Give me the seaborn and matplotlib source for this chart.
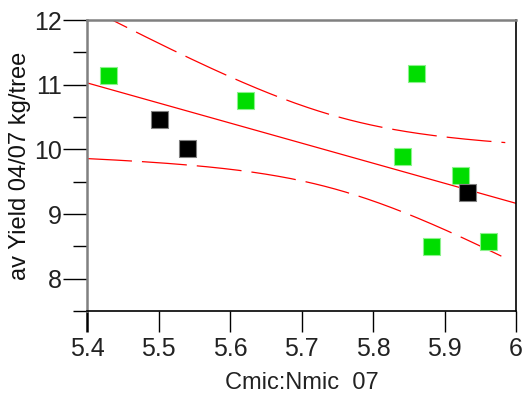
import numpy as np
import pandas as pd
import matplotlib
matplotlib.use("Agg")
import matplotlib.pyplot as plt
import seaborn as sns

# data
x_green = [5.430, 5.622, 5.861, 5.841, 5.922, 5.882, 5.962]
y_green = [11.14, 10.76, 11.18, 9.894, 9.596, 8.499, 8.571]
x_black = [5.501, 5.541, 5.932]
y_black = [10.456, 10.008, 9.328]
x_ticks = [5.4, 5.5, 5.6, 5.7, 5.8, 5.9, 6.0]
x_ticklabels = ["5.4", "5.5", "5.6", "5.7", "5.8", "5.9", "6"]
y_ticks = [8, 9, 10, 11, 12]

df = pd.DataFrame({
    "x": x_green + x_black,
    "y": y_green + y_black,
    "grp": ["g"] * len(x_green) + ["k"] * len(x_black),
})

sns.set_style("white")
plt.rcParams["font.family"] = ["Liberation Sans", "DejaVu Sans"]

fig = plt.figure(figsize=(5.28, 3.98), dpi=100)
ax = fig.add_axes([0.1648, 0.2186, 0.8125, 0.7311])
ax.set_xlim(5.4, 6.0)
ax.set_ylim(7.5, 12)

# regression line over full axis
sns.regplot(data=df, x="x", y="y", ax=ax, scatter=False, ci=None, truncate=False,
            line_kws=dict(color="red", lw=0.9))

# 95% confidence band of the mean, dashed
xv = df["x"].to_numpy(); yv = df["y"].to_numpy()
n = len(xv)
b, a = np.polyfit(xv, yv, 1)
resid = yv - (a + b * xv)
s = np.sqrt((resid ** 2).sum() / (n - 2))
t = 2.306  # t(0.975, df=8)
xs = np.linspace(5.4, 5.985, 200)
fit = a + b * xs
hw = t * s * np.sqrt(1 / n + (xs - xv.mean()) ** 2 / ((xv - xv.mean()) ** 2).sum())
for band in (fit + hw, fit - hw):
    ax.plot(xs, band, color="red", lw=0.9, linestyle=(0, (36, 8)))

sns.scatterplot(data=df, x="x", y="y", hue="grp", palette={"g": "#00dd00", "k": "black"},
                marker="s", s=150, linewidth=0.8, legend=False, ax=ax, zorder=3,
                edgecolor=None)
for coll in ax.collections:
    fc = coll.get_facecolors()
    if len(fc):
        ec = [(0.55, 0.95, 0.55, 1) if f[1] > 0.5 else (0.5, 0.5, 0.5, 1) for f in fc]
        coll.set_edgecolors(ec)

ax.set_xticks(x_ticks)
ax.set_xticklabels(x_ticklabels)
ax.set_yticks(y_ticks)
ax.set_yticks([7.5, 8.5, 9.5, 10.5, 11.5], minor=True)
ax.tick_params(axis="x", which="major", bottom=True, labelsize=18, colors="black",
               direction="out", length=15, width=1, pad=4)
ax.tick_params(axis="y", which="major", left=True, labelsize=18, colors="black",
               direction="out", length=17, width=1, pad=1)
ax.tick_params(axis="y", which="minor", left=True, length=10, width=1, color="black",
               direction="out")
ax.tick_params(axis="both", labelcolor="#222222")
ax.xaxis.get_major_ticks()[0].tick1line.set_color("#808080")
ax.xaxis.get_major_ticks()[0].tick1line.set_markeredgewidth(1.8)

for side in ("left", "top"):
    ax.spines[side].set_color("#808080")
    ax.spines[side].set_linewidth(1.8)
for side in ("right", "bottom"):
    ax.spines[side].set_color("black")
    ax.spines[side].set_linewidth(1.2)

ax.set_xlabel("Cmic:Nmic  07", fontsize=17, color="#222222", labelpad=8)
ax.set_ylabel("av Yield 04/07 kg/tree", fontsize=17, color="#111111", labelpad=2)

fig.savefig("out.png", dpi=100)
